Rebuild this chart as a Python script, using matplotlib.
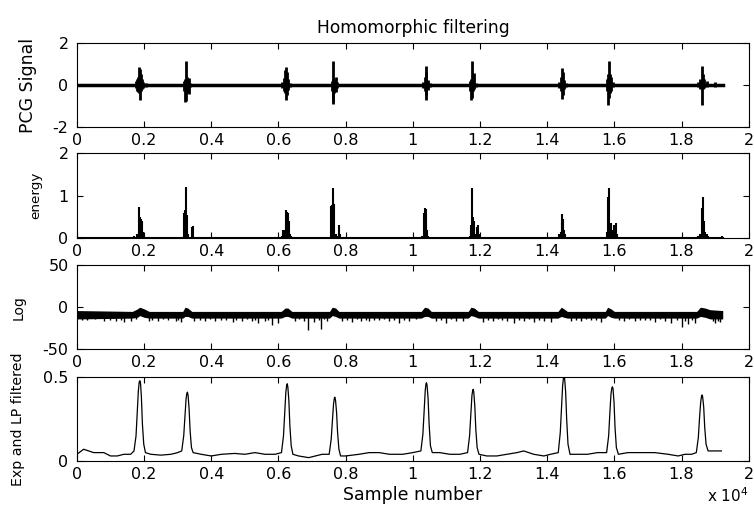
import matplotlib
matplotlib.use("Agg")
import matplotlib.pyplot as plt
from matplotlib.ticker import FuncFormatter

plt.rcParams['font.family'] = ['DejaVu Sans']

# 信号长度 (样本数)
n_samples = 19226

# PCG 信号: 每个心音的竖线段 (位置, 下限, 上限)
pcg_x = [1760, 1800, 1830, 1860, 1875, 1900, 1930, 1980, 2050,
         3200, 3230, 3250, 3270, 3300, 3330, 3380,
         6120, 6170, 6200, 6225, 6250, 6280, 6330,
         7580, 7610, 7625, 7650, 7700, 7730,
         10300, 10350, 10380, 10400, 10440, 10500,
         11700, 11740, 11760, 11790, 11820, 11870,
         14350, 14400, 14430, 14460, 14500, 14550,
         15780, 15810, 15830, 15860, 15900, 15950,
         18500, 18560, 18600, 18630, 18680, 18750, 19000]
pcg_lo = [-0.15, -0.3, -0.35, -0.4, -0.71, -0.3, -0.2, -0.15, -0.1,
          -0.3, -0.8, -0.75, -0.4, -0.3, -0.45, -0.1,
          -0.15, -0.3, -0.4, -0.7, -0.5, -0.25, -0.1,
          -0.3, -0.9, -0.8, -0.4, -0.35, -0.15,
          -0.15, -0.3, -0.7, -0.5, -0.25, -0.1,
          -0.3, -0.7, -0.6, -0.3, -0.2, -0.1,
          -0.15, -0.3, -0.67, -0.5, -0.2, -0.1,
          -0.3, -0.94, -0.6, -0.4, -0.3, -0.1,
          -0.1, -0.2, -0.94, -0.2, -0.15, -0.1, -0.1]
pcg_hi = [0.2, 0.3, 0.4, 0.87, 0.75, 0.5, 0.3, 0.15, 0.1,
          0.2, 0.3, 1.14, 0.4, 0.2, 0.35, 0.1,
          0.15, 0.35, 0.7, 0.87, 0.6, 0.3, 0.1,
          0.2, 0.3, 1.14, 0.3, 0.4, 0.15,
          0.15, 0.4, 0.9, 0.6, 0.25, 0.1,
          0.2, 0.3, 1.14, 0.3, 0.55, 0.1,
          0.15, 0.4, 0.83, 0.6, 0.25, 0.1,
          0.3, 0.5, 1.14, 0.5, 0.4, 0.15,
          0.15, 0.3, 0.9, 0.5, 0.3, 0.2, 0.15]

# 能量
energy_x = [1700, 1800, 1840, 1856, 1880, 1915, 1940, 1960, 2000, 2050,
            3190, 3210, 3236, 3260, 3285, 3300, 3414, 3444, 3470,
            6000, 6100, 6136, 6180, 6210, 6235, 6260, 6285, 6314, 6340, 6380, 6410,
            7570, 7590, 7612, 7633, 7660, 7700, 7740, 7801, 7831, 7860,
            10280, 10320, 10340, 10357, 10380, 10400, 10420, 10450, 10500,
            11700, 11720, 11740, 11765, 11790, 11810, 11850, 11900, 11943, 11970, 12000,
            14350, 14400, 14430, 14455, 14480, 14510, 14540,
            15790, 15813, 15833, 15860, 15900, 15950, 16000, 16062, 16090, 16130,
            18500, 18560, 18600, 18640, 18670, 18700, 18760, 18800, 18900, 19200]
energy_y = [0.05, 0.1, 0.15, 0.74, 0.5, 0.45, 0.4, 0.15, 0.08, 0.03,
            0.6, 0.65, 1.21, 0.55, 0.55, 0.1, 0.25, 0.28, 0.03,
            0.02, 0.05, 0.2, 0.2, 0.3, 0.66, 0.62, 0.6, 0.4, 0.1, 0.05, 0.03,
            0.75, 0.78, 0.8, 1.17, 0.8, 0.1, 0.05, 0.3, 0.1, 0.03,
            0.05, 0.1, 0.6, 0.7, 0.68, 0.35, 0.2, 0.05, 0.03,
            0.05, 0.2, 0.3, 1.19, 0.5, 0.4, 0.1, 0.25, 0.3, 0.1, 0.03,
            0.1, 0.15, 0.4, 0.56, 0.45, 0.2, 0.1,
            0.15, 0.97, 1.19, 0.3, 0.35, 0.2, 0.3, 0.35, 0.1, 0.03,
            0.05, 0.1, 0.7, 0.97, 0.4, 0.15, 0.1, 0.05, 0.03, 0.04]

# 对数: 带状上下边界与向下的尖峰
log_x = [0, 1650, 1800, 1870, 2000, 2150, 3150, 3220, 3300, 3420,
         6080, 6200, 6280, 6400, 7520, 7600, 7700, 7800,
         10250, 10350, 10450, 10550, 11650, 11730, 11830, 11950,
         14320, 14420, 14500, 14600, 15730, 15800, 15900, 16000,
         18450, 18560, 18700, 18850, 19226]
log_top = [-4, -5, -2, 0, -2, -5, -5, 0, -1, -5,
           -5, -1, -1, -5, -5, 0, -1, -5,
           -5, 0, -1, -5, -5, 0, -1, -5,
           -5, 0, -2, -5, -5, 0, -2, -5,
           -5, 0, -1, -3, -4]
log_bot = [-14, -13, -12, -10, -12, -13, -13, -11, -11, -13,
           -13, -11, -11, -13, -13, -10, -11, -13,
           -13, -11, -11, -13, -13, -10, -11, -13,
           -13, -11, -12, -13, -13, -10, -12, -13,
           -13, -11, -12, -14, -14]
log_spike_x = [300, 800, 1150, 1400, 1600, 2150, 2400, 2700, 2950, 3100,
               3500, 3800, 4100, 4300, 4650, 4900, 5200, 5400, 5600, 5800,
               6000, 6500, 6880, 7050, 7280, 7450, 7900, 8200, 8450, 8700,
               9000, 9300, 9600, 9900, 10700, 11000, 11300, 11500, 12100, 12400,
               12800, 13000, 13300, 13600, 13900, 14100, 14700, 15000, 15300, 15600,
               16300, 16600, 16900, 17200, 17500, 17700, 18000, 18200, 18400, 19000,
               19150, 150, 550, 1000, 1300, 1750, 2250, 2550, 3000, 3650,
               3950, 4450, 4750, 5050, 5300, 5700, 6600, 6750, 7200, 7350,
               8050, 8350, 8600, 8850, 9150, 9450, 9750, 10100, 10850, 11150,
               12250, 12550, 12650, 13150, 13450, 13750, 14850, 15150, 15450, 16150,
               16450, 16750, 17050, 17350, 17850, 18100, 18300, 18950, 19100]
log_spike_y = [-15, -17, -16, -18, -17, -16, -17, -15, -16, -18,
               -16, -17, -16, -15, -18, -17, -16, -19, -17, -21,
               -19, -17, -27, -18, -26, -17, -16, -18, -16, -17,
               -15, -17, -19, -16, -16, -19, -17, -16, -18, -17,
               -16, -19, -17, -18, -16, -18, -16, -17, -15, -18,
               -16, -17, -15, -18, -17, -19, -23, -20, -19, -19,
               -18, -15, -14, -15, -15, -14, -15, -14, -15, -15,
               -14, -15, -15, -14, -15, -15, -14, -16, -15, -14,
               -15, -14, -15, -15, -14, -15, -15, -14, -15, -14,
               -15, -14, -15, -15, -14, -15, -15, -14, -15, -15,
               -14, -15, -15, -14, -15, -16, -15, -17, -16]

# 指数 + 低通滤波后的包络
env_x = [0, 0, 200, 500, 800, 1000, 1200, 1400, 1600,
         1700, 1760, 1800, 1830, 1855, 1875, 1895, 1920, 1950, 1990, 2040,
         2200, 2500, 2800, 3000,
         3120, 3180, 3220, 3250, 3270, 3290, 3310, 3340, 3370, 3410, 3460,
         3700, 4000, 4300, 4700, 5000, 5300, 5600, 5900,
         6090, 6150, 6190, 6220, 6245, 6262, 6280, 6310, 6340, 6380, 6430,
         6600, 6900, 7100, 7300,
         7510, 7570, 7610, 7640, 7665, 7680, 7700, 7730, 7760, 7800, 7850,
         8000, 8400, 8700, 9000, 9300, 9700, 10000,
         10240, 10300, 10340, 10370, 10392, 10407, 10425, 10455, 10485, 10525, 10580,
         10800, 11100, 11400,
         11630, 11690, 11730, 11760, 11782, 11798, 11815, 11845, 11875, 11915, 11970,
         12200, 12500, 12800, 13100, 13300, 13600, 13900, 14100,
         14330, 14390, 14430, 14460, 14485, 14503, 14520, 14550, 14580, 14620, 14680,
         14900, 15200, 15500,
         15770, 15830, 15870, 15900, 15925, 15943, 15960, 15990, 16020, 16060, 16120,
         16400, 16800, 17200, 17600, 17900, 18100, 18300,
         18440, 18500, 18540, 18570, 18595, 18612, 18630, 18660, 18690, 18730, 18790,
         18900, 19186]
env_y = [0.02, 0.04, 0.07, 0.05, 0.05, 0.03, 0.03, 0.04, 0.04,
         0.06, 0.15, 0.30, 0.42, 0.47, 0.478, 0.46, 0.38, 0.22, 0.10, 0.05,
         0.04, 0.035, 0.04, 0.05,
         0.06, 0.15, 0.28, 0.37, 0.40, 0.41, 0.39, 0.31, 0.18, 0.08, 0.05,
         0.04, 0.03, 0.04, 0.045, 0.04, 0.05, 0.04, 0.04,
         0.05, 0.15, 0.30, 0.41, 0.45, 0.46, 0.44, 0.36, 0.21, 0.09, 0.04,
         0.03, 0.02, 0.03, 0.04,
         0.04, 0.13, 0.25, 0.34, 0.375, 0.38, 0.36, 0.29, 0.17, 0.07, 0.03,
         0.03, 0.04, 0.05, 0.05, 0.04, 0.04, 0.05,
         0.06, 0.16, 0.31, 0.42, 0.46, 0.466, 0.45, 0.37, 0.22, 0.09, 0.05,
         0.05, 0.04, 0.04,
         0.05, 0.15, 0.29, 0.39, 0.42, 0.427, 0.41, 0.33, 0.19, 0.08, 0.04,
         0.03, 0.03, 0.04, 0.05, 0.06, 0.04, 0.03, 0.04,
         0.05, 0.17, 0.33, 0.45, 0.495, 0.5, 0.49, 0.41, 0.25, 0.10, 0.04,
         0.04, 0.04, 0.05,
         0.05, 0.15, 0.30, 0.40, 0.435, 0.442, 0.43, 0.35, 0.20, 0.08, 0.04,
         0.05, 0.05, 0.05, 0.04, 0.03, 0.04, 0.04,
         0.05, 0.14, 0.27, 0.35, 0.385, 0.393, 0.38, 0.32, 0.20, 0.10, 0.06,
         0.06, 0.06]

xticks = [0, 2000, 4000, 6000, 8000, 10000, 12000, 14000, 16000, 18000, 20000]

fig = plt.figure(figsize=(7.54, 5.12), dpi=100)
left, width = 0.102, 0.891
ax1 = fig.add_axes([left, 0.752, width, 0.164])
ax2 = fig.add_axes([left, 0.535, width, 0.166])
ax3 = fig.add_axes([left, 0.318, width, 0.164])
ax4 = fig.add_axes([left, 0.0996, width, 0.164])

# 子图1: PCG 信号
ax1.plot([0, n_samples], [0, 0], color='black', lw=2.5)
ax1.vlines(pcg_x, pcg_lo, pcg_hi, color='black', lw=2)
ax1.set_ylim(-2, 2)
ax1.set_yticks([-2, 0, 2])
ax1.set_ylabel('PCG Signal', fontsize=12.5)
ax1.yaxis.set_label_coords(-0.060, 0.5)
ax1.set_title('Homomorphic filtering', fontsize=12.3, pad=7)

# 子图2: 能量
ax2.plot([0, n_samples], [0, 0], color='black', lw=1.5)
ax2.vlines(energy_x, 0, energy_y, color='black', lw=1.5)
ax2.set_ylim(0, 2)
ax2.set_yticks([0, 1, 2])
ax2.set_ylabel('energy', fontsize=9.7)
ax2.yaxis.set_label_coords(-0.051, 0.5)

# 子图3: 对数
ax3.fill_between(log_x, log_bot, log_top, color='black', lw=0)
ax3.vlines(log_spike_x, -10, log_spike_y, color='black', lw=1)
ax3.set_ylim(-50, 50)
ax3.set_yticks([-50, 0, 50])
ax3.set_ylabel('Log', fontsize=10)
ax3.yaxis.set_label_coords(-0.077, 0.5)

# 子图4: 指数与低通滤波
ax4.plot(env_x, env_y, color='black', lw=0.9)
ax4.set_ylim(0, 0.5)
ax4.set_yticks([0, 0.5])
ax4.set_ylabel('Exp and LP filtered', fontsize=10.2)
ax4.yaxis.set_label_coords(-0.077, 0.5)
ax4.set_xlabel('Sample number', fontsize=12.5, labelpad=3)

for ax in [ax1, ax2, ax3, ax4]:
    ax.set_xlim(0, 20000)
    ax.set_xticks(xticks)
    ax.xaxis.set_major_formatter(FuncFormatter(lambda v, p: '%g' % (v / 1e4)))
    ax.yaxis.set_major_formatter(FuncFormatter(lambda v, p: '%g' % v))
    ax.tick_params(direction='in', length=4, width=0.8, top=True, right=True,
                   labelsize=11.5, pad=4)
    ax.tick_params(axis='y', pad=6)
    for s in ax.spines.values():
        s.set_linewidth(0.8)

fig.text(0.9377, 0.0195, 'x 10$^4$', fontsize=11, ha='left', va='baseline')

plt.savefig('out.png', dpi=100)
